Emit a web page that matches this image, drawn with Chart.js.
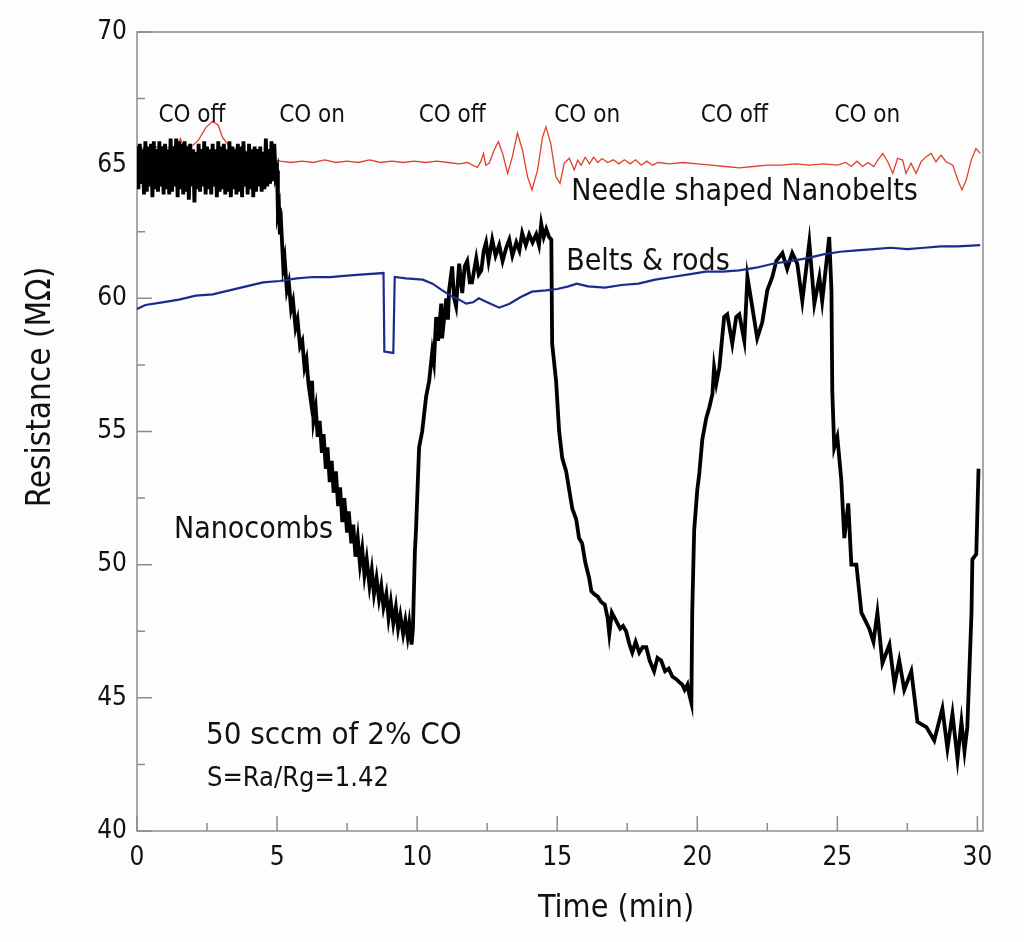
<!DOCTYPE html>
<html>
<head>
<meta charset="utf-8">
<script src="https://cdn.jsdelivr.net/npm/chart.js@4.4.1/dist/chart.umd.min.js"></script>
<style>
  html, body { margin: 0; padding: 0; background: #fdfdfd; }
  #wrap { width: 1024px; height: 942px; }
</style>
</head>
<body>
<div id="wrap"><canvas id="chart"></canvas></div>
<script>
// tick labels
const timeTicks = [0, 5, 10, 15, 20, 25, 30];
const resTicks = [40, 45, 50, 55, 60, 65, 70];

// [time (min), resistance (MOhm)]
const nanocombs = [
  [0.00,65.7],[0.05,64.1],[0.10,65.8],[0.15,64.3],[0.20,65.6],[0.25,63.9],[0.30,65.9],[0.35,64.0],[0.40,65.7],[0.45,64.2],
  [0.50,65.8],[0.55,63.8],[0.60,65.9],[0.65,64.1],[0.70,65.6],[0.75,64.0],[0.80,65.9],[0.85,64.2],[0.90,65.7],[0.95,63.9],
  [1.00,65.8],[1.05,64.1],[1.10,65.6],[1.15,63.9],[1.20,66.0],[1.25,64.0],[1.30,65.7],[1.35,64.2],[1.40,66.0],[1.45,63.8],
  [1.50,65.9],[1.55,64.1],[1.60,65.8],[1.65,63.9],[1.70,65.9],[1.75,64.0],[1.80,65.7],[1.85,63.7],[1.90,65.8],[1.95,64.2],
  [2.00,65.6],[2.05,63.6],[2.10,65.5],[2.15,64.1],[2.20,65.8],[2.25,64.0],[2.30,65.6],[2.35,64.2],[2.40,65.9],[2.45,63.9],
  [2.50,65.7],[2.55,64.1],[2.60,65.6],[2.65,63.9],[2.70,65.8],[2.75,64.2],[2.80,65.6],[2.85,63.8],[2.90,65.9],[2.95,64.0],
  [3.00,65.7],[3.05,64.1],[3.10,65.8],[3.15,63.9],[3.20,65.6],[3.25,64.0],[3.30,65.9],[3.35,63.8],[3.40,65.7],[3.45,64.1],
  [3.50,65.6],[3.55,63.9],[3.60,65.8],[3.65,64.0],[3.70,65.7],[3.75,63.8],[3.80,65.9],[3.85,64.2],[3.90,65.5],[3.95,63.9],
  [4.00,65.8],[4.05,64.1],[4.10,65.6],[4.15,63.8],[4.20,65.7],[4.25,64.0],[4.30,65.6],[4.35,64.2],[4.40,65.7],[4.45,64.0],
  [4.50,65.5],[4.55,64.1],[4.60,66.0],[4.65,64.2],[4.70,65.6],[4.75,64.3],[4.80,65.9],[4.85,64.4],[4.90,65.8],[4.95,64.6],
  [5.00,64.8],[5.03,63.2],[5.07,63.4],[5.10,62.4],[5.15,62.7],[5.22,61.2],[5.27,61.5],[5.35,60.3],[5.42,60.6],[5.50,59.6],
  [5.57,59.9],[5.66,58.9],[5.73,59.2],[5.82,58.2],[5.90,58.4],[5.98,57.4],[6.05,57.7],[6.12,56.8],[6.20,56.2],[6.25,56.9],
  [6.30,55.4],[6.38,55.9],[6.45,54.8],[6.52,55.4],[6.60,54.2],[6.66,54.9],[6.74,53.6],[6.80,54.4],[6.88,53.1],[6.95,53.9],
  [7.02,52.7],[7.10,53.5],[7.18,52.2],[7.25,52.9],[7.33,51.6],[7.40,52.5],[7.50,51.2],[7.56,52.0],[7.65,50.8],[7.72,51.5],
  [7.80,50.3],[7.88,51.0],[7.96,50.0],[8.04,50.6],[8.12,49.6],[8.20,50.2],[8.30,49.2],[8.38,49.8],[8.46,48.9],[8.55,49.5],
  [8.64,48.7],[8.72,49.2],[8.80,48.4],[8.90,48.9],[8.98,48.0],[9.06,48.6],[9.15,47.8],[9.24,48.4],[9.32,47.6],[9.40,48.1],
  [9.50,47.4],[9.58,47.9],[9.66,47.3],[9.72,47.8],[9.80,47.0],[9.85,47.6],[9.92,50.5],[9.96,51.3],[10.07,54.4],[10.18,55.0],
  [10.32,56.3],[10.43,56.9],[10.54,58.0],[10.60,57.6],[10.68,59.3],[10.75,58.4],[10.86,59.8],[10.89,58.5],[11.04,60.0],[11.10,59.2],
  [11.14,60.3],[11.25,61.2],[11.32,60.0],[11.39,59.7],[11.50,61.3],[11.61,60.2],[11.70,61.2],[11.79,61.4],[11.88,60.6],[11.96,60.6],
  [12.11,61.5],[12.20,60.9],[12.29,61.05],[12.38,61.8],[12.46,62.1],[12.55,61.4],[12.68,62.2],[12.80,61.6],[12.93,62.0],[13.05,61.4],
  [13.18,61.9],[13.29,62.2],[13.40,61.6],[13.54,62.1],[13.65,61.8],[13.75,62.45],[13.88,62.0],[14.00,62.4],[14.12,62.1],[14.25,62.4],
  [14.35,62.0],[14.43,62.8],[14.52,62.3],[14.61,62.6],[14.71,62.3],[14.79,62.2],[14.82,58.3],[14.96,56.9],[15.07,55.0],[15.18,54.0],
  [15.32,53.5],[15.43,52.8],[15.54,52.1],[15.68,51.7],[15.78,51.0],[15.89,50.8],[16.00,50.1],[16.14,49.5],[16.22,49.0],[16.32,48.9],
  [16.45,48.8],[16.57,48.6],[16.70,48.5],[16.80,48.0],[16.86,47.4],[16.95,48.2],[17.10,47.9],[17.25,47.6],[17.35,47.7],[17.46,47.5],
  [17.58,47.0],[17.68,46.7],[17.80,47.1],[17.93,46.7],[18.05,46.9],[18.18,46.9],[18.30,46.4],[18.46,46.0],[18.58,46.5],[18.71,46.4],
  [18.85,46.0],[18.98,46.1],[19.11,45.8],[19.25,45.7],[19.35,45.6],[19.46,45.5],[19.55,45.3],[19.65,45.5],[19.72,45.1],[19.79,44.8],
  [19.82,48.2],[19.89,51.3],[20.00,52.8],[20.07,53.4],[20.18,54.7],[20.32,55.5],[20.43,55.9],[20.54,56.4],[20.60,57.4],[20.68,56.8],
  [20.79,57.4],[20.86,58.2],[20.96,59.3],[21.07,59.4],[21.25,58.3],[21.39,59.3],[21.50,59.4],[21.68,58.4],[21.79,60.8],[21.96,59.7],
  [22.14,58.5],[22.32,59.1],[22.50,60.3],[22.68,60.8],[22.82,61.4],[23.04,61.7],[23.21,61.1],[23.39,61.7],[23.57,61.3],[23.75,59.9],
  [24.00,62.1],[24.18,59.8],[24.36,60.8],[24.46,59.9],[24.71,62.3],[24.79,60.3],[24.82,56.5],[24.89,54.4],[25.00,54.8],[25.14,53.2],
  [25.25,51.0],[25.39,52.3],[25.50,50.0],[25.68,50.0],[25.86,48.2],[26.14,47.6],[26.29,47.1],[26.43,48.2],[26.61,46.3],[26.86,47.0],
  [27.04,45.5],[27.21,46.4],[27.39,45.3],[27.64,46.0],[27.86,44.1],[28.18,43.9],[28.46,43.4],[28.75,44.6],[28.93,43.1],[29.11,44.4],
  [29.29,42.7],[29.43,44.1],[29.54,43.0],[29.64,43.9],[29.79,48.2],[29.82,50.2],[29.96,50.4],[30.04,53.6]
];

const needleBelts = [
  [0,65.7],[0.4,65.6],[0.8,65.7],[1.2,65.65],[1.45,65.75],[1.55,66.0],[1.65,65.7],[2.0,65.75],[2.2,65.95],[2.45,66.4],
  [2.7,66.65],[2.9,66.5],[3.05,66.05],[3.3,65.7],[3.8,65.55],[4.3,65.4],[4.8,65.25],[5.1,65.15],[5.5,65.1],[5.9,65.15],
  [6.3,65.1],[6.7,65.2],[7.1,65.1],[7.5,65.15],[7.9,65.1],[8.3,65.2],[8.7,65.1],[9.1,65.15],[9.5,65.1],[9.9,65.15],
  [10.3,65.1],[10.7,65.15],[11.1,65.1],[11.5,65.05],[11.8,65.1],[11.98,65.0],[12.15,64.92],[12.27,65.13],[12.37,65.44],[12.45,65.0],
  [12.57,65.07],[12.75,65.57],[12.9,65.88],[13.05,65.44],[13.23,64.69],[13.4,65.32],[13.58,66.2],[13.76,65.57],[13.94,64.57],[14.1,64.07],
  [14.3,64.82],[14.48,66.07],[14.6,66.44],[14.77,65.82],[14.95,64.57],[15.1,64.32],[15.25,65.07],[15.43,65.26],[15.61,64.82],[15.73,65.19],
  [15.85,65.0],[16.0,65.3],[16.15,65.05],[16.3,65.3],[16.45,65.1],[16.6,65.25],[16.8,65.1],[17.0,65.2],[17.2,65.05],[17.4,65.2],
  [17.6,65.05],[17.8,65.2],[18.0,65.0],[18.2,65.15],[18.4,65.0],[18.6,65.1],[19.0,65.05],[19.5,65.1],[20.0,65.05],[20.5,65.0],
  [21.0,64.95],[21.5,64.9],[22.0,64.95],[22.5,65.0],[23.0,65.0],[23.5,65.05],[24.0,65.0],[24.5,65.05],[25.0,65.0],[25.3,65.1],
  [25.5,64.95],[25.7,65.15],[25.9,64.95],[26.1,65.1],[26.3,64.95],[26.45,65.2],[26.62,65.44],[26.8,65.13],[26.98,64.69],[27.15,65.26],
  [27.33,65.19],[27.45,64.69],[27.63,65.07],[27.81,64.69],[27.99,65.13],[28.17,65.32],[28.35,65.44],[28.52,65.13],[28.7,65.38],[28.88,65.13],
  [29.12,65.0],[29.3,64.44],[29.45,64.07],[29.6,64.44],[29.78,65.19],[29.95,65.63],[30.1,65.44]
];

const beltsRods = [
  [0,59.6],[0.3,59.75],[0.9,59.85],[1.5,59.95],[2.1,60.1],[2.7,60.15],[3.3,60.3],[3.9,60.45],[4.5,60.6],[5.1,60.65],
  [5.7,60.75],[6.3,60.8],[6.9,60.8],[7.5,60.85],[8.1,60.9],[8.8,60.95],[8.83,58.0],[9.15,57.95],[9.2,60.8],[9.6,60.75],
  [10.2,60.7],[10.55,60.55],[10.9,60.3],[11.2,60.1],[11.5,59.95],[11.75,59.8],[12.0,59.85],[12.2,60.0],[12.5,59.85],[12.93,59.65],
  [13.3,59.8],[13.7,60.05],[14.1,60.25],[14.6,60.3],[15.0,60.35],[15.4,60.45],[15.7,60.55],[16.1,60.45],[16.7,60.4],[17.3,60.5],
  [17.9,60.55],[18.5,60.7],[19.1,60.8],[19.7,60.9],[20.3,61.0],[20.9,61.0],[21.5,61.05],[22.1,61.15],[22.7,61.3],[23.3,61.4],
  [23.9,61.5],[24.5,61.65],[25.1,61.75],[25.7,61.8],[26.3,61.85],[26.9,61.9],[27.5,61.85],[28.1,61.9],[28.7,61.95],[29.3,61.95],
  [30.1,62.0]
];

// text inside the plot, placed in data units
const notes = [
  { text: 'CO off', t: 1.96, r: 66.62, size: 24, align: 'center' },
  { text: 'CO on', t: 6.25, r: 66.62, size: 24, align: 'center' },
  { text: 'CO off', t: 11.25, r: 66.62, size: 24, align: 'center' },
  { text: 'CO on', t: 16.07, r: 66.62, size: 24, align: 'center' },
  { text: 'CO off', t: 21.32, r: 66.62, size: 24, align: 'center' },
  { text: 'CO on', t: 26.07, r: 66.62, size: 24, align: 'center' },
  { text: 'Needle shaped Nanobelts', t: 15.5, r: 63.68, size: 30, align: 'left' },
  { text: 'Belts & rods', t: 15.32, r: 61.05, size: 30, align: 'left' },
  { text: 'Nanocombs', t: 1.32, r: 51.02, size: 30, align: 'left' },
  { text: '50 sccm of 2% CO', t: 2.46, r: 43.27, size: 31, align: 'left' },
  { text: 'S=Ra/Rg=1.42', t: 2.5, r: 41.69, size: 27, align: 'left' }
];

const FONT = "'DejaVu Sans Condensed', 'DejaVu Sans', sans-serif";
const toXY = arr => arr.map(p => ({ x: p[0], y: p[1] }));

const framePlugin = {
  id: 'framePlugin',
  beforeDatasetsDraw(chart) {
    const ctx = chart.ctx;
    const a = chart.chartArea;
    const xs = chart.scales.x, ys = chart.scales.y;
    ctx.save();
    ctx.strokeStyle = '#8c8c8c';
    ctx.lineWidth = 1.5;
    ctx.strokeRect(a.left, a.top, a.right - a.left, a.bottom - a.top);
    ctx.beginPath();
    timeTicks.forEach(v => {
      let px = xs.getPixelForValue(v);
      ctx.moveTo(px, a.bottom); ctx.lineTo(px, a.bottom - 15);
      px = xs.getPixelForValue(v + 2.5);
      if (v + 2.5 < xs.max) { ctx.moveTo(px, a.bottom); ctx.lineTo(px, a.bottom - 8); }
    });
    resTicks.forEach(v => {
      let py = ys.getPixelForValue(v);
      ctx.moveTo(a.left, py); ctx.lineTo(a.left + 15, py);
      if (v + 2.5 < ys.max) {
        py = ys.getPixelForValue(v + 2.5);
        ctx.moveTo(a.left, py); ctx.lineTo(a.left + 8, py);
      }
    });
    ctx.stroke();
    ctx.restore();
  },
  afterDatasetsDraw(chart) {
    const ctx = chart.ctx;
    const a = chart.chartArea;
    const xs = chart.scales.x, ys = chart.scales.y;
    ctx.save();
    ctx.fillStyle = '#111';
    ctx.textBaseline = 'alphabetic';
    notes.forEach(n => {
      ctx.font = n.size + 'px ' + FONT;
      ctx.textAlign = n.align;
      ctx.fillText(n.text, xs.getPixelForValue(n.t), ys.getPixelForValue(n.r));
    });
    // axis titles
    ctx.font = '32px ' + FONT;
    ctx.textAlign = 'left';
    ctx.fillText('Time (min)', a.left + 401, a.bottom + 86);
    ctx.translate(a.left - 87, a.top + 355);
    ctx.rotate(-Math.PI / 2);
    ctx.font = '33px ' + FONT;
    ctx.textAlign = 'center';
    ctx.fillText('Resistance (M\u03A9)', 0, 0);
    ctx.restore();
  }
};

new Chart(document.getElementById('chart'), {
  type: 'line',
  data: {
    datasets: [
      { label: 'Belts & rods', data: toXY(beltsRods), borderColor: '#1b2a8c', borderWidth: 2.2, order: 1 },
      { label: 'Nanocombs', data: toXY(nanocombs), borderColor: '#000000', borderWidth: 3.8, order: 2 },
      { label: 'Needle shaped Nanobelts', data: toXY(needleBelts), borderColor: '#e0412b', borderWidth: 1.3, order: 3 }
    ]
  },
  options: {
    responsive: true,
    maintainAspectRatio: false,
    animation: false,
    elements: { point: { radius: 0 }, line: { tension: 0 } },
    layout: { padding: { left: 0, right: 41, top: 32, bottom: 0 } },
    plugins: { legend: { display: false }, tooltip: { enabled: false } },
    scales: {
      x: {
        type: 'linear', min: 0, max: 30.2,
        grid: { display: false, drawTicks: false },
        border: { display: false },
        afterBuildTicks: s => { s.ticks = timeTicks.map(v => ({ value: v })); },
        afterFit: s => { s.height = 111; },
        ticks: { color: '#111', padding: 12, maxRotation: 0, font: { family: FONT, size: 26 } }
      },
      y: {
        type: 'linear', min: 40, max: 70,
        grid: { display: false, drawTicks: false },
        border: { display: false },
        afterBuildTicks: s => { s.ticks = resTicks.map(v => ({ value: v })); },
        afterFit: s => { s.width = 137; },
        ticks: { color: '#111', padding: 10, font: { family: FONT, size: 26 } }
      }
    }
  },
  plugins: [framePlugin]
});
</script>
</body>
</html>
